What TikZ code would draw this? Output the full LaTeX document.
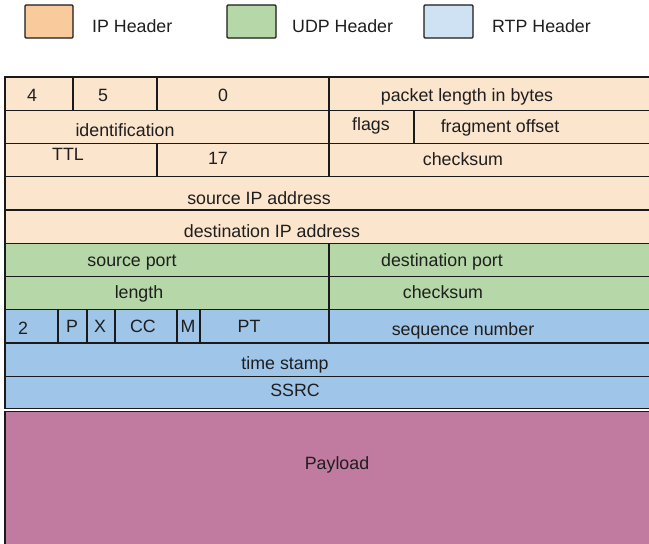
\documentclass[tikz,border=0pt]{standalone}
\usepackage{fontspec}
\setmainfont{Liberation Sans}
\definecolor{legip}{HTML}{F9CB9C}
\definecolor{legudp}{HTML}{B6D7A8}
\definecolor{legrtp}{HTML}{CFE2F3}
\definecolor{ipc}{HTML}{FCE5CD}
\definecolor{udpc}{HTML}{B6D7A8}
\definecolor{rtpc}{HTML}{9FC5E8}
\definecolor{payc}{HTML}{C27BA0}
\definecolor{txt}{HTML}{1E1E1E}
\definecolor{ln}{HTML}{1A1A1A}
\tikzset{
  lbl/.style={inner sep=0pt, text=txt, text height=12.7pt, text depth=0pt, font=\fontsize{17.8}{21}\selectfont},
  legtxt/.style={lbl, anchor=west},
  legbox/.style={draw=ln, line width=1.4pt, rounded corners=1pt},
  cell/.style={draw=ln, line width=1.3pt},
  sep/.style={draw=ln, line width=1.3pt}
}
\begin{document}
\begin{tikzpicture}[x=1pt,y=-1pt]
\useasboundingbox (0,0) rectangle (649,544);
\clip (0,0) rectangle (649,544);
% legend
\draw[legbox, fill=legip] (25,5) rectangle (73,38);
\node[legtxt] (lip) at (92,26) {IP Header};
\draw[legbox, fill=legudp] (227,5) rectangle (276,38);
\node[legtxt] (ludp) at (292,26) {UDP Header};
\draw[legbox, fill=legrtp] (424,5) rectangle (473,38);
\node[legtxt] (lrtp) at (492,26) {RTP Header};
% IP header rows
\draw[cell, fill=ipc] (5,77) rectangle (660,110.3);
\draw[cell, fill=ipc] (5,110.3) rectangle (660,143.5);
\draw[cell, fill=ipc] (5,143.5) rectangle (660,176.8);
\draw[cell, fill=ipc] (5,176.8) rectangle (660,210);
\draw[cell, fill=ipc] (5,210) rectangle (660,243.3);
% UDP rows
\draw[cell, fill=udpc] (5,243.3) rectangle (660,276.5);
\draw[cell, fill=udpc] (5,276.5) rectangle (660,309.8);
% RTP rows
\draw[cell, fill=rtpc] (5,309.8) rectangle (660,343);
\draw[cell, fill=rtpc] (5,343) rectangle (660,376.3);
\draw[cell, fill=rtpc] (5,376.3) rectangle (660,408.5);
% payload
\draw[cell, fill=payc] (5,411.2) rectangle (660,570);
% vertical separators
\draw[sep] (73,77) -- (73,110.3);
\draw[sep] (157,77) -- (157,110.3);
\draw[sep] (329,77) -- (329,176.8);
\draw[sep] (414,110.3) -- (414,143.5);
\draw[sep] (157,143.5) -- (157,176.8);
\draw[sep] (329,243.3) -- (329,343);
\draw[sep] (58,309.8) -- (58,343);
\draw[sep] (87,309.8) -- (87,343);
\draw[sep] (115,309.8) -- (115,343);
\draw[sep] (177,309.8) -- (177,343);
\draw[sep] (200,309.8) -- (200,343);
% texts
\node[lbl] (v4) at (32,95) {4};
\node[lbl] (v5) at (103,95) {5};
\node[lbl] (v0) at (223,95) {0};
\node[lbl] (plen) at (467,95) {packet length in bytes};
\node[lbl] (ident) at (125,130) {identification};
\node[lbl] (flags) at (371,124) {flags};
\node[lbl] (frag) at (500,126) {fragment offset};
\node[lbl] (ttl) at (68,154) {TTL};
\node[lbl] (v17) at (218,158) {17};
\node[lbl] (ipcs) at (463,159) {checksum};
\node[lbl] (srcip) at (259,198) {source IP address};
\node[lbl] (dstip) at (272,231) {destination IP address};
\node[lbl] (sport) at (132,260) {source port};
\node[lbl] (dport) at (442,260) {destination port};
\node[lbl] (ulen) at (139,292) {length};
\node[lbl] (ucs) at (443,292) {checksum};
\node[lbl] (v2) at (23,328) {2};
\node[lbl] (vp) at (72,326) {P};
\node[lbl] (vx) at (100,326) {X};
\node[lbl] (vcc) at (143,326) {CC};
\node[lbl] (vm) at (188,326) {M};
\node[lbl] (vpt) at (249,326) {PT};
\node[lbl] (seq) at (463,329) {sequence number};
\node[lbl] (ts) at (285,363) {time stamp};
\node[lbl] (ssrc) at (295,390) {SSRC};
\node[lbl] (pay) at (337,463) {Payload};
\end{tikzpicture}
\end{document}
